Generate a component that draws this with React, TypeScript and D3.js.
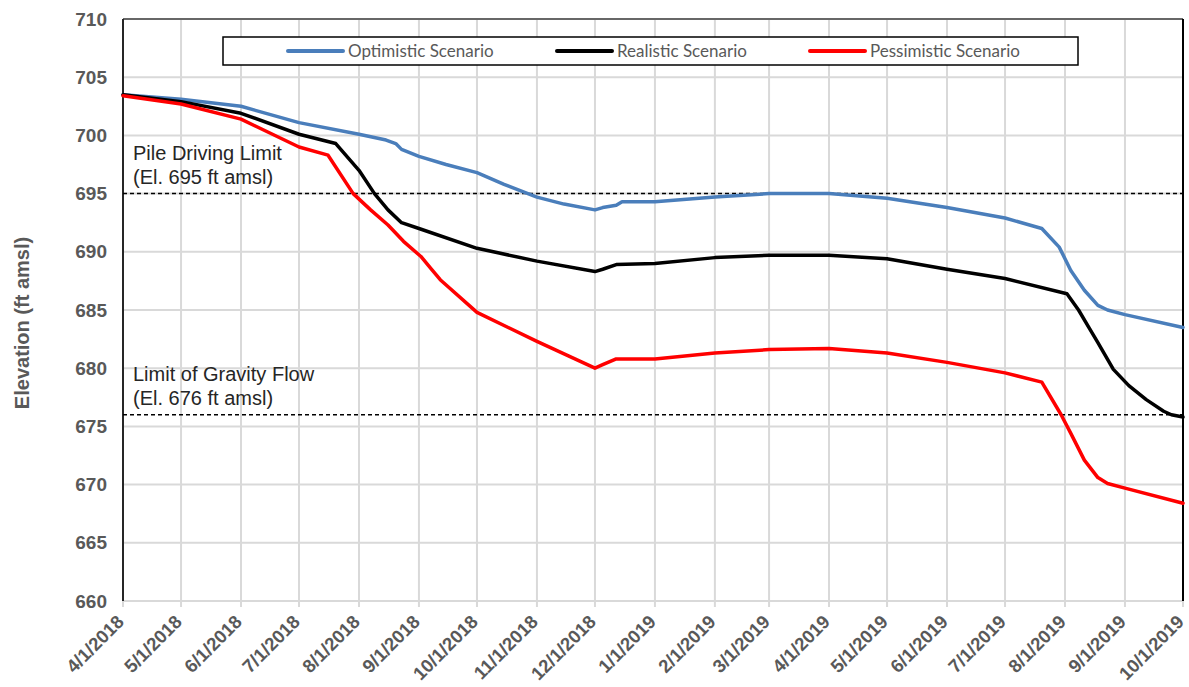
import React from "react";
import * as d3 from "d3";

const W = 1189;
const H = 687;
const margin = { left: 123, right: 5, top: 19, bottom: 86 };

const tickDates = [
  "2018-04-01", "2018-05-01", "2018-06-01", "2018-07-01", "2018-08-01", "2018-09-01",
  "2018-10-01", "2018-11-01", "2018-12-01", "2019-01-01", "2019-02-01", "2019-03-01",
  "2019-04-01", "2019-05-01", "2019-06-01", "2019-07-01", "2019-08-01", "2019-09-01", "2019-10-01",
];
const yTicks = [660, 665, 670, 675, 680, 685, 690, 695, 700, 705, 710];

const optimisticDates = [
  "2018-04-01", "2018-05-01", "2018-06-01", "2018-07-01", "2018-08-01", "2018-08-15", "2018-08-20",
  "2018-08-23", "2018-09-01", "2018-09-15", "2018-10-01", "2018-10-15", "2018-11-01", "2018-11-15",
  "2018-12-01", "2018-12-05", "2018-12-12", "2018-12-15", "2019-01-01", "2019-02-01", "2019-03-01",
  "2019-04-01", "2019-05-01", "2019-06-01", "2019-07-01", "2019-07-20", "2019-07-29", "2019-08-04",
  "2019-08-11", "2019-08-18", "2019-08-23", "2019-09-01", "2019-10-01",
];
const optimisticValues = [
  703.5, 703.1, 702.5, 701.1, 700.1, 699.6, 699.3,
  698.8, 698.2, 697.5, 696.8, 695.8, 694.7, 694.1,
  693.6, 693.8, 694.0, 694.3, 694.3, 694.7, 695.0,
  695.0, 694.6, 693.8, 692.9, 692.0, 690.4, 688.4,
  686.7, 685.4, 685.0, 684.6, 683.5,
];

const realisticDates = [
  "2018-04-01", "2018-05-01", "2018-06-01", "2018-07-01", "2018-07-20", "2018-08-01", "2018-08-09",
  "2018-08-16", "2018-08-23", "2018-09-01", "2018-10-01", "2018-11-01", "2018-12-01", "2018-12-05",
  "2018-12-12", "2019-01-01", "2019-02-01", "2019-03-01", "2019-04-01", "2019-05-01", "2019-06-01",
  "2019-07-01", "2019-08-02", "2019-08-08", "2019-08-13", "2019-08-18", "2019-08-26", "2019-09-03",
  "2019-09-12", "2019-09-21", "2019-09-25", "2019-10-01",
];
const realisticValues = [
  703.5, 702.9, 701.9, 700.1, 699.3, 697.0, 695.0,
  693.6, 692.5, 692.0, 690.3, 689.2, 688.3, 688.5,
  688.9, 689.0, 689.5, 689.7, 689.7, 689.4, 688.5,
  687.7, 686.4, 685.0, 683.6, 682.2, 679.9, 678.5,
  677.3, 676.3, 676.0, 675.8,
];

const pessimisticDates = [
  "2018-04-01", "2018-05-01", "2018-06-01", "2018-07-01", "2018-07-16", "2018-07-29", "2018-08-07",
  "2018-08-16", "2018-08-24", "2018-09-02", "2018-09-07", "2018-09-12", "2018-10-01", "2018-11-01",
  "2018-12-01", "2018-12-05", "2018-12-12", "2019-01-01", "2019-02-01", "2019-03-01", "2019-04-01",
  "2019-05-01", "2019-06-01", "2019-07-01", "2019-07-20", "2019-07-30", "2019-08-04", "2019-08-11",
  "2019-08-18", "2019-08-23", "2019-09-01", "2019-10-01",
];
const pessimisticValues = [
  703.4, 702.7, 701.4, 699.0, 698.3, 695.0, 693.6,
  692.3, 690.9, 689.6, 688.6, 687.6, 684.8, 682.3,
  680.0, 680.3, 680.8, 680.8, 681.3, 681.6, 681.7,
  681.3, 680.5, 679.6, 678.8, 676.0, 674.4, 672.1,
  670.6, 670.1, 669.7, 668.4,
];

const seriesNames = ["Optimistic Scenario", "Realistic Scenario", "Pessimistic Scenario"];
const seriesColors = ["#4a7ebb", "#000000", "#ff0000"];
const seriesDates = [optimisticDates, realisticDates, pessimisticDates];
const seriesValues = [optimisticValues, realisticValues, pessimisticValues];

const limitValues = [695, 676];
const limitLabels = [
  ["Pile Driving Limit", "(El. 695 ft amsl)"],
  ["Limit of Gravity Flow", "(El. 676 ft amsl)"],
];

const parse = d3.timeParse("%Y-%m-%d");
const fmt = d3.timeFormat("%-m/%-d/%Y");

export default function App() {
  const x = d3
    .scaleTime()
    .domain([parse("2018-04-01")!, parse("2019-10-01")!])
    .range([margin.left, W - margin.right - 1]);
  const y = d3.scaleLinear().domain([660, 710]).range([H - margin.bottom, margin.top]);
  const line = d3
    .line<[Date, number]>()
    .x((d) => x(d[0]))
    .y((d) => y(d[1]));

  const x0 = x.range()[0];
  const x1 = x.range()[1];
  const yTop = y(710);
  const yBot = y(660);
  const grey = "#595959";

  return (
    <svg
      width={W}
      height={H}
      style={{ position: "absolute", left: 0, top: 0, background: "#fff" }}
      fontFamily="'Liberation Sans', Arial, sans-serif"
    >
      {/* grid */}
      {yTicks.map((t) => (
        <line key={"gy" + t} x1={x0} x2={x1} y1={y(t)} y2={y(t)} stroke="#d9d9d9" strokeWidth={2} />
      ))}
      {tickDates.map((t) => (
        <line
          key={"gx" + t}
          x1={x(parse(t)!)}
          x2={x(parse(t)!)}
          y1={yTop}
          y2={yBot + 6}
          stroke="#d9d9d9"
          strokeWidth={2}
        />
      ))}
      {/* frame */}
      <line x1={x0} x2={x1} y1={yTop} y2={yTop} stroke="#404040" strokeWidth={1.5} />
      <line x1={x0} x2={x0} y1={yTop} y2={yBot} stroke="#262626" strokeWidth={2} />
      <line x1={x1} x2={x1} y1={yTop} y2={yBot} stroke="#000" strokeWidth={2} />

      {/* y tick labels */}
      {yTicks.map((t) => (
        <text
          key={"yl" + t}
          x={107}
          y={y(t)}
          dy="0.35em"
          textAnchor="end"
          fontSize={19}
          fontWeight="bold"
          fill={grey}
        >
          {t}
        </text>
      ))}
      {/* x tick labels */}
      {tickDates.map((t) => {
        const px = x(parse(t)!);
        return (
          <text
            key={"xl" + t}
            transform={`translate(${px + 2},${yBot + 22}) rotate(-45)`}
            textAnchor="end"
            fontSize={18.5}
            fontWeight="bold"
            fill={grey}
          >
            {fmt(parse(t)!)}
          </text>
        );
      })}
      {/* y title */}
      <text
        transform={`translate(29,323) rotate(-90)`}
        textAnchor="middle"
        fontSize={20}
        fontWeight="bold"
        fill={grey}
      >
        Elevation (ft amsl)
      </text>

      {/* limit lines */}
      {limitValues.map((v, i) => (
        <g key={"lim" + v}>
          <line
            x1={x0}
            x2={x1}
            y1={y(v)}
            y2={y(v)}
            stroke="#000"
            strokeWidth={1.5}
            strokeDasharray="4,3"
          />
          <text x={133} y={y(v) - 34} fontSize={20} fill="#262626">
            {limitLabels[i][0]}
          </text>
          <text x={133} y={y(v) - 10} fontSize={20} fill="#262626">
            {limitLabels[i][1]}
          </text>
        </g>
      ))}

      {/* series */}
      {seriesNames.map((n, i) => {
        const pts: [Date, number][] = seriesDates[i].map((d, j) => [parse(d)!, seriesValues[i][j]]);
        return (
          <path
            key={n}
            d={line(pts) || ""}
            fill="none"
            stroke={seriesColors[i]}
            strokeWidth={3.5}
            strokeLinejoin="round"
            strokeLinecap="round"
          />
        );
      })}

      {/* legend */}
      <rect x={223} y={37} width={855} height={28} fill="#fff" stroke="#000" strokeWidth={1.5} />
      {seriesNames.map((n, i) => {
        const lx = [288, 557, 810][i];
        return (
          <g key={"lg" + n}>
            <line x1={lx} x2={lx + 55} y1={51} y2={51} stroke={seriesColors[i]} strokeWidth={4} strokeLinecap="round" />
            <text x={lx + 60} y={51} dy="0.35em" fontSize={17} fill={grey} fontFamily="Lato, sans-serif">
              {n}
            </text>
          </g>
        );
      })}
    </svg>
  );
}
